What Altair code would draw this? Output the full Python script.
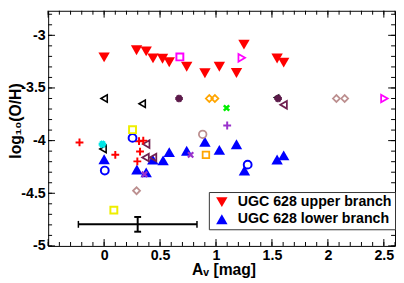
import altair as alt
import pandas as pd

# ---------------- data ----------------
upper_x = [0.0, 0.29, 0.376, 0.437, 0.522, 0.582, 0.738, 0.901, 1.03, 1.183, 1.25, 1.546, 1.605]
upper_y = [-3.21, -3.142, -3.153, -3.219, -3.223, -3.256, -3.298, -3.36, -3.298, -3.358, -3.088, -3.22, -3.26]
lower_x = [0.0, 0.293, 0.376, 0.435, 0.527, 0.582, 0.738, 0.901, 1.03, 1.183, 1.254, 1.546, 1.605]
lower_y = [-4.177, -4.274, -4.302, -4.181, -4.188, -4.109, -4.096, -4.011, -4.088, -4.034, -4.284, -4.179, -4.14]

blk_ltri_x = [0.0, 0.34, -0.01]
blk_ltri_y = [-3.6, -3.65, -4.08]
blk_fltri_x = [1.537]
blk_fltri_y = [-3.59]
mar_ltri_x = [0.376, 0.37, 0.437, 1.604]
mar_ltri_y = [-4.033, -4.16, -4.16, -3.66]
dpur_ast_x = [0.67, 1.555]
dpur_ast_y = [-3.6, -3.6]
org_dia_x = [0.94, 0.99]
org_dia_y = [-3.6, -3.6]
org_sq_x = [0.91]
org_sq_y = [-4.135]
rb_dia_x = [2.076, 2.15, 0.29]
rb_dia_y = [-3.6, -3.6, -4.476]
rb_circ_x = [0.881]
rb_circ_y = [-3.94]
mag_sq_x = [0.677]
mag_sq_y = [-3.205]
mag_rtri_x = [1.23, 2.505]
mag_rtri_y = [-3.214, -3.6]
grn_x_x = [1.094]
grn_x_y = [-3.69]
pur_plus_x = [1.1]
pur_plus_y = [-3.856]
pur_x_x = [0.773, 0.361]
pur_x_y = [-4.135, -4.32]
red_plus_x = [-0.22, 0.10, 0.312, 0.35, 0.321, 0.297]
red_plus_y = [-4.017, -4.135, -4.005, -4.0, -4.104, -4.197]
cyan_ast_x = [-0.015]
cyan_ast_y = [-4.035]
blue_circ_x = [0.006, 0.254, 1.283]
blue_circ_y = [-4.284, -3.974, -4.228]
yel_sq_x = [0.254, 0.087]
yel_sq_y = [-3.896, -4.66]

err_x = [0.3]
err_xerr = [0.53]
err_y = [-4.795]
err_yerr = [0.07]

series_names = ["UGC 628 upper branch", "UGC 628 lower branch"]

x_major = [-0.5, 0, 0.5, 1, 1.5, 2, 2.5]
x_labels = [0, 0.5, 1, 1.5, 2, 2.5]
x_minor = [round(-0.5 + 0.1 * i, 1) for i in range(32)]
y_major = [-5, -4.5, -4, -3.5, -3]
y_minor = [round(-5 + 0.1 * i, 1) for i in range(23)]

# ---------------- layout ----------------
W, H = 354, 240
FONT = "Liberation Sans"
xs = alt.Scale(domain=[-0.5, 2.6], nice=False, zero=False)
ys = alt.Scale(domain=[-5, -2.767], nice=False, zero=False)

X_AX = alt.Axis(values=x_labels, labelExpr="toString(datum.value)", title="Aᵥ [mag]",
                titleX=179, titleY=29, titleBaseline="alphabetic", titleAlign="center",
                labelPadding=3)
Y_AX = alt.Axis(values=y_major, labelExpr="toString(datum.value)", title="log₁₀(O/H)",
                titleX=-28.5, titleY=112, titleBaseline="alphabetic", titleAlign="center",
                titleAngle=270, labelPadding=3)


def XQ(f):
    return alt.X(f, type="quantitative", scale=xs, axis=X_AX)


def YQ(f):
    return alt.Y(f, type="quantitative", scale=ys, axis=Y_AX)


PLUS = "M-1,0L1,0M0,-1L0,1"
XCROSS = "M-1,-1L1,1M-1,1L1,-1"
AST = "M-1,0L1,0M-0.5,-0.866L0.5,0.866M-0.5,0.866L0.5,-0.866"

main_df = pd.DataFrame({
    "x": upper_x + lower_x,
    "y": upper_y + lower_y,
    "s": [series_names[0]] * len(upper_x) + [series_names[1]] * len(lower_x),
})

LEG = alt.Legend(title=None, orient="none", legendX=164, legendY=185,
                 padding=3, symbolOffset=3, labelOffset=9, rowPadding=2.5,
                 strokeColor="#333333", fillColor="white", symbolSize=135,
                 symbolStrokeWidth=0, labelFont=FONT, labelFontSize=14.5,
                 labelFontWeight="bold", labelColor="black", labelLimit=400)

main = alt.Chart(main_df).mark_point(filled=True, size=135, opacity=1, strokeWidth=0).encode(
    x=XQ("x"), y=YQ("y"),
    shape=alt.Shape("s:N", scale=alt.Scale(domain=series_names, range=["triangle-down", "triangle-up"]),
                    legend=LEG),
    color=alt.Color("s:N", scale=alt.Scale(domain=series_names, range=["#ff0000", "#0000ff"]),
                    legend=LEG),
)


def pts(xv, yv, shape, color, filled=False, size=60, sw=1.5):
    df = pd.DataFrame({"x": xv, "y": yv})
    return alt.Chart(df).mark_point(shape=shape, color=color, filled=filled, size=size,
                                    strokeWidth=sw, opacity=1).encode(x=XQ("x"), y=YQ("y"))


others = [
    pts(blk_ltri_x, blk_ltri_y, "triangle-left", "black", size=55, sw=1.6),
    pts(blk_fltri_x, blk_fltri_y, "triangle-left", "black", filled=True, size=60),
    pts(mar_ltri_x, mar_ltri_y, "triangle-left", "#702050", size=60, sw=1.8),
    pts(dpur_ast_x, dpur_ast_y, AST, "#5c1a4a", size=60, sw=3),
    pts(org_dia_x, org_dia_y, "diamond", "#ffa500", size=50, sw=1.8),
    pts(org_sq_x, org_sq_y, "square", "#ffa500", size=45, sw=1.8),
    pts(rb_dia_x, rb_dia_y, "diamond", "#bc8f8f", size=50, sw=1.8),
    pts(rb_circ_x, rb_circ_y, "circle", "#bc8f8f", size=60, sw=1.8),
    pts(mag_sq_x, mag_sq_y, "square", "#ff00ff", size=50, sw=2),
    pts(mag_rtri_x, mag_rtri_y, "triangle-right", "#ff00ff", size=60, sw=1.8),
    pts(grn_x_x, grn_x_y, XCROSS, "#00ee00", size=30, sw=2.5),
    pts(pur_plus_x, pur_plus_y, PLUS, "#9932cc", size=64, sw=2),
    pts(pur_x_x, pur_x_y, XCROSS, "#9932cc", size=30, sw=2.2),
    pts(red_plus_x, red_plus_y, PLUS, "#ff0000", size=64, sw=2),
    pts(cyan_ast_x, cyan_ast_y, AST, "#00e5e5", size=60, sw=3),
    pts(blue_circ_x, blue_circ_y, "circle", "#0000ff", size=64, sw=2),
    pts(yel_sq_x, yel_sq_y, "square", "#eeee00", size=50, sw=2),
]

err_df = pd.DataFrame({
    "x": err_x, "y": err_y,
    "xlo": [a - b for a, b in zip(err_x, err_xerr)],
    "xhi": [a + b for a, b in zip(err_x, err_xerr)],
    "ylo": [a - b for a, b in zip(err_y, err_yerr)],
    "yhi": [a + b for a, b in zip(err_y, err_yerr)],
})
err_h = alt.Chart(err_df).mark_rule(color="black", strokeWidth=2).encode(
    x=XQ("xlo"), x2="xhi:Q", y=YQ("y"))
err_v = alt.Chart(err_df).mark_rule(color="black", strokeWidth=2).encode(
    x=XQ("x"), y=YQ("ylo"), y2="yhi:Q")
cap_l = alt.Chart(err_df).mark_tick(orient="vertical", size=7, thickness=1.5, color="black", opacity=1).encode(
    x=XQ("xlo"), y=YQ("y"))
cap_r = alt.Chart(err_df).mark_tick(orient="vertical", size=7, thickness=1.5, color="black", opacity=1).encode(
    x=XQ("xhi"), y=YQ("y"))
cap_b = alt.Chart(err_df).mark_tick(orient="horizontal", size=7, thickness=2, color="black", opacity=1).encode(
    x=XQ("x"), y=YQ("ylo"))
cap_t = alt.Chart(err_df).mark_tick(orient="horizontal", size=7, thickness=2, color="black", opacity=1).encode(
    x=XQ("x"), y=YQ("yhi"))


def tick_layer(vals, ax, side, length):
    df = pd.DataFrame({"v": vals})
    if ax == "x":
        enc = dict(x=XQ("v"))
        if side == "bottom":
            enc.update(y=alt.value(H), y2=alt.value(H - length))
        else:
            enc.update(y=alt.value(0), y2=alt.value(length))
    else:
        enc = dict(y=YQ("v"))
        if side == "left":
            enc.update(x=alt.value(0), x2=alt.value(length))
        else:
            enc.update(x=alt.value(W), x2=alt.value(W - length))
    return alt.Chart(df).mark_rule(color="black", strokeWidth=1).encode(**enc)


ticks = [
    tick_layer(x_minor, "x", "bottom", 4), tick_layer(x_minor, "x", "top", 4),
    tick_layer(x_major, "x", "bottom", 7), tick_layer(x_major, "x", "top", 7),
    tick_layer(y_minor, "y", "left", 4), tick_layer(y_minor, "y", "right", 4),
    tick_layer(y_major, "y", "left", 7), tick_layer(y_major, "y", "right", 7),
]

chart = alt.layer(main, *others, err_h, err_v, cap_l, cap_r, cap_b, cap_t, *ticks).properties(
    width=W, height=H,
    autosize=alt.AutoSizeParams(type="none"),
    padding={"left": 41, "top": 0, "right": 1, "bottom": 35},
    background="white",
).configure_view(stroke="black", strokeWidth=1).configure_axis(
    labelFont=FONT, labelFontSize=14.5, labelFontWeight="bold", labelColor="black",
    titleFont=FONT, titleFontSize=16, titleFontWeight="bold", titleColor="black",
    ticks=False, domain=False, grid=False, labelFlush=False,
)

chart.save("out.html", embed_options={"renderer": "svg", "actions": False})
